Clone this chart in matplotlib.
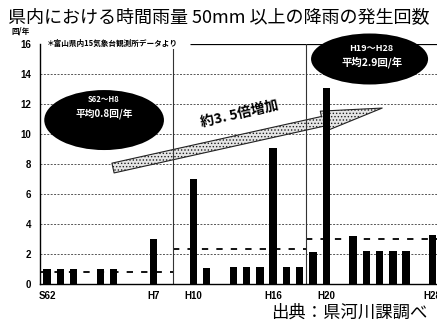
import matplotlib
matplotlib.use('Agg')
import matplotlib.pyplot as plt
from matplotlib.patches import Ellipse, FancyArrowPatch, ArrowStyle

plt.rcParams['font.family'] = ['Noto Sans CJK JP', 'DejaVu Sans']
plt.rcParams['hatch.linewidth'] = 0.6

# データ（S62〜H28）
years = ['S62', 'S63', 'H1', 'H2', 'H3', 'H4', 'H5', 'H6', 'H7', 'H8',
         'H9', 'H10', 'H11', 'H12', 'H13', 'H14', 'H15', 'H16', 'H17', 'H18',
         'H19', 'H20', 'H21', 'H22', 'H23', 'H24', 'H25', 'H26', 'H27', 'H28']
counts = [1.0, 1.0, 1.0, 0, 1.0, 1.0, 0, 0, 3.0, 0,
          0, 7.0, 1.1, 0, 1.15, 1.15, 1.15, 9.1, 1.15, 1.15,
          2.15, 13.1, 0, 3.2, 2.2, 2.2, 2.2, 2.2, 0, 3.3]
shown_ticks = ['S62', 'H7', 'H10', 'H16', 'H20', 'H28']
period_starts = ['S62', 'H9', 'H19']
period_avgs = [0.8, 2.35, 3.0]
period_labels = [('S62～H8', '平均0.8回/年'), ('H19～H28', '平均2.9回/年')]

x = list(range(len(years)))

fig = plt.figure(figsize=(4.37, 3.23), dpi=100)
ax = fig.add_axes([40 / 437, 1 - 284 / 323, 397 / 437, 240 / 323])

# 棒グラフ
ax.bar(x, counts, width=0.56, color='black', zorder=3)

# 期間の区切りと平均線
bounds = [years.index(p) - 0.5 for p in period_starts] + [len(years) - 0.5]
for b in bounds[1:-1]:
    ax.axvline(b, color='#333333', lw=0.8, zorder=2.5)
for i, avg in enumerate(period_avgs):
    ax.hlines(avg, bounds[i], bounds[i + 1], colors='black', lw=1.3,
              linestyles=(0, (3.5, 4.5)), zorder=2)

# 矢印
arrow = FancyArrowPatch((4.96, 7.73), (25.2, 11.73),
                        arrowstyle=ArrowStyle('simple', head_length=44,
                                              head_width=15, tail_width=7.2),
                        mutation_scale=1, shrinkA=0, shrinkB=0,
                        facecolor='#e6e6e6', edgecolor='#222222', hatch='.....',
                        lw=0.8, zorder=2)
ax.add_patch(arrow)
ax.text(14.5, 11.35, '約3. 5倍増加', rotation=13, fontsize=10, fontweight='bold',
        ha='center', va='center', zorder=5)

# 楕円
e1 = Ellipse((4.29, 10.93), 9.0, 4.0, facecolor='black', edgecolor='none', zorder=4)
e2 = Ellipse((24.25, 15.0), 8.8, 3.4, facecolor='black', edgecolor='none', zorder=4,
             clip_on=False)
ax.add_patch(e1)
ax.add_patch(e2)
ax.text(4.29, 12.3, period_labels[0][0], color='white', fontsize=5.5,
        fontweight='bold', ha='center', va='center', zorder=5)
ax.text(4.29, 11.35, period_labels[0][1], color='white', fontsize=7,
        fontweight='bold', ha='center', va='center', zorder=5)
ax.text(24.4, 15.67, period_labels[1][0], color='white', fontsize=6.5,
        fontweight='bold', ha='center', va='center', zorder=5, clip_on=False)
ax.text(24.4, 14.8, period_labels[1][1], color='white', fontsize=7.5,
        fontweight='bold', ha='center', va='center', zorder=5)

# 軸
ax.set_xlim(-0.53, 29.32)
ax.set_ylim(0, 16)
ax.set_yticks(range(0, 17, 2))
ax.set_xticks([years.index(t) for t in shown_ticks])
ax.set_xticklabels(shown_ticks)
for lbl in ax.get_xticklabels() + ax.get_yticklabels():
    lbl.set_fontfamily('Liberation Sans')
    lbl.set_fontweight('bold')
    lbl.set_fontsize(7)
ax.tick_params(axis='both', length=0)
ax.tick_params(axis='y', pad=6.5)
ax.tick_params(axis='x', pad=5)
ax.grid(axis='y', color='#555555', lw=0.7, linestyle=(0, (2, 1.5)), zorder=0.5)
ax.set_axisbelow(True)
ax.get_ygridlines()[-1].set_visible(False)
ax.hlines(16, 10.75, 29.32, colors='black', lw=0.9, zorder=1)
for s in ['top', 'right']:
    ax.spines[s].set_visible(False)
ax.spines['left'].set_linewidth(1.0)
ax.spines['bottom'].set_linewidth(1.0)

# テキスト
fig.text(0.5, 1 - 17 / 323, '県内における時間雨量 50mm 以上の降雨の発生回数',
         fontsize=13, ha='center', va='center')
fig.text(21 / 437, 1 - 31 / 323, '回/年', fontsize=5.5, fontweight='bold',
         ha='center', va='center')
fig.text(47 / 437, 1 - 43 / 323, '＊富山県内15気象台観測所データより', fontsize=5.5,
         fontweight='bold', ha='left', va='center',
         bbox=dict(facecolor='white', edgecolor='none', pad=1))
fig.text(349 / 437, 1 - 313 / 323, '出典：県河川課調べ', fontsize=12.5,
         ha='center', va='center')

fig.savefig('out.png', dpi=100)
